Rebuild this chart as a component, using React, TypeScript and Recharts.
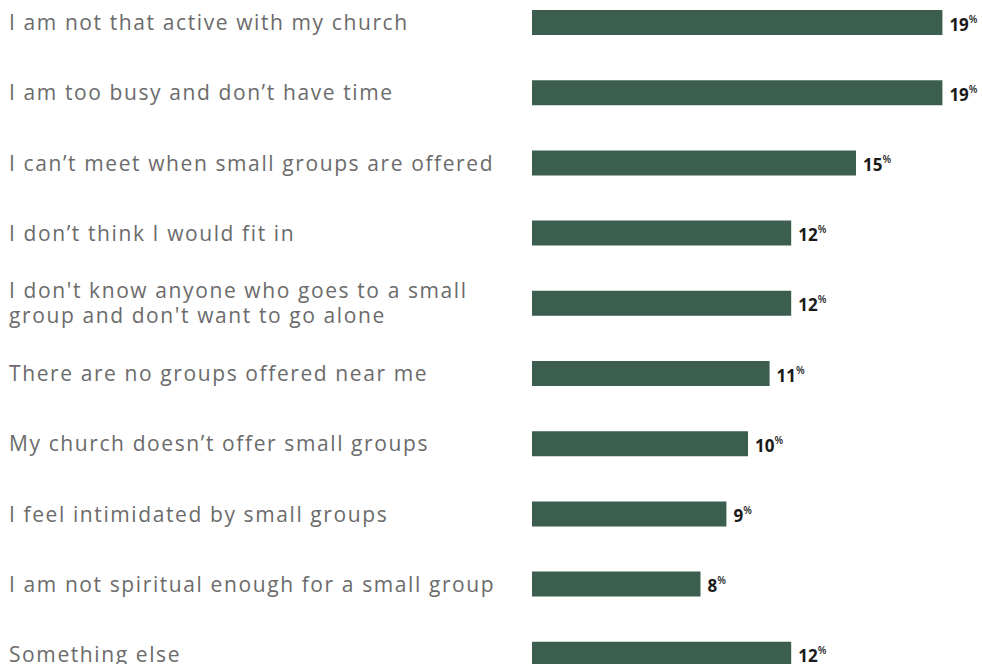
import { BarChart, Bar, XAxis, YAxis, LabelList } from "recharts"

const reasons = [
  "I am not that active with my church",
  "I am too busy and don’t have time",
  "I can’t meet when small groups are offered",
  "I don’t think I would fit in",
  "I don't know anyone who goes to a small\ngroup and don't want to go alone",
  "There are no groups offered near me",
  "My church doesn’t offer small groups",
  "I feel intimidated by small groups",
  "I am not spiritual enough for a small group",
  "Something else",
]

const shares = [19, 19, 15, 12, 12, 11, 10, 9, 7.8, 12]

const shownLabels = ["19", "19", "15", "12", "12", "11", "10", "9", "8", "12"]

const data = reasons.map((reason, i) => ({
  reason,
  share: shares[i],
  label: shownLabels[i],
}))

const BAR = "#3b5e4f"
const FONT = "'Open Sans', sans-serif"

function ReasonTick(props: any) {
  const { y, payload } = props
  const lines = String(payload.value).split("\n")
  const lh = 25
  const start = y - ((lines.length - 1) * lh) / 2
  return (
    <text x={9} y={start} textAnchor="start" dominantBaseline="central" fill="#6b6b6b" fontSize={21} letterSpacing={1.6} fontFamily={FONT}>
      {lines.map((line, i) => (
        <tspan key={i} x={9} y={start + i * lh}>
          {line}
        </tspan>
      ))}
    </text>
  )
}

function ValueLabel(props: any) {
  const { x, y, width, height, index } = props
  return (
    <text x={x + width + 7} y={y + height / 2 + 1} dominantBaseline="central" fill="#1a1a1a" fontFamily={FONT}>
      <tspan fontSize={17} fontWeight={700}>{shownLabels[index]}</tspan>
      <tspan fontSize={10} fontWeight={600} dy={-5}>%</tspan>
    </text>
  )
}

export default function App() {
  return (
    <div style={{ position: "absolute", left: 0, top: -13 }}>
      <BarChart
        width={982}
        height={702}
        data={data}
        layout="vertical"
        margin={{ top: 0, right: 18, bottom: 0, left: 0 }}
        barCategoryGap={0}
      >
        <XAxis type="number" domain={[0, 20]} hide />
        <YAxis
          type="category"
          dataKey="reason"
          width={532}
          axisLine={false}
          tickLine={false}
          tick={<ReasonTick />}
          interval={0}
        />
        <Bar dataKey="share" fill={BAR} barSize={25} isAnimationActive={false}>
          <LabelList dataKey="label" content={<ValueLabel />} />
        </Bar>
      </BarChart>
    </div>
  )
}
